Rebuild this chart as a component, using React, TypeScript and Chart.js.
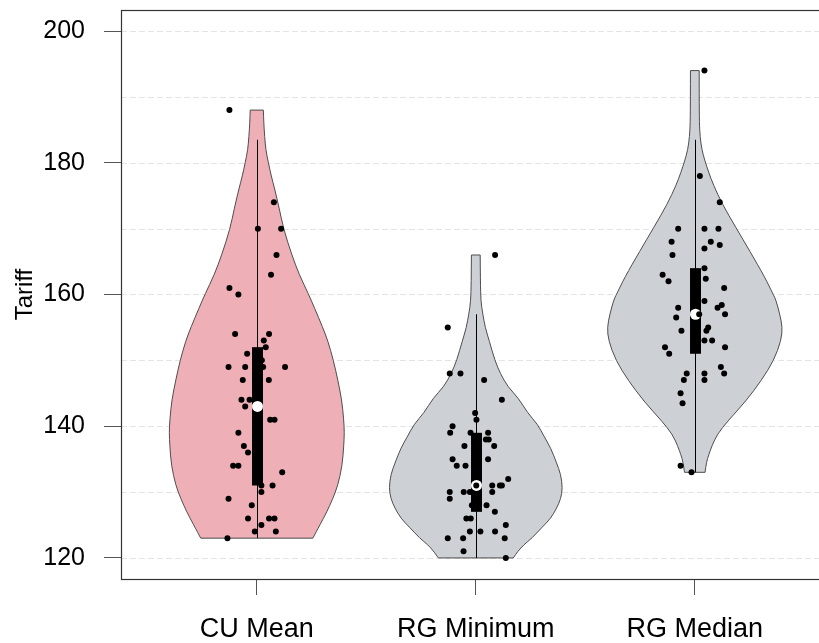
import React, { useEffect, useRef } from 'react';
import { Chart, registerables } from 'chart.js';

Chart.register(...registerables);

// ---------- data ----------
const categories = ['CU Mean', 'RG Minimum', 'RG Median'];
const yTickValues = [120, 140, 160, 180, 200];
const gridValues = [120, 130, 140, 150, 160, 170, 180, 190, 200];

// jittered observations (value, horizontal jitter in category units)
const cuValues = [188, 174, 170, 170, 166, 163, 161, 160, 154, 154, 153, 152, 151, 150, 149, 149, 149, 149, 147, 147, 144, 144, 143, 141, 141, 139, 137, 136, 134, 134, 133, 131, 131, 130, 129, 128, 126, 126, 126, 125, 124, 124, 123];
const cuJitter = [-0.125, 0.078, 0.005, 0.111, 0.09, 0.065, -0.125, -0.084, -0.099, 0.056, 0.032, 0.041, -0.044, 0.023, -0.129, -0.053, 0.029, 0.129, -0.064, 0.055, -0.07, -0.033, -0.053, 0.061, 0.081, -0.084, -0.059, -0.04, -0.108, -0.084, 0.116, 0.021, 0.072, 0.021, -0.129, -0.023, -0.04, 0.056, 0.081, 0.021, -0.009, 0.087, -0.134];

const rgMinValues = [166, 155, 148, 148, 147, 144, 142, 141, 140, 139, 139, 139, 138, 138, 137, 137, 135, 135, 134, 134, 132, 131, 131, 131, 131, 130, 130, 130, 130, 129, 128, 128, 127, 126, 126, 125, 124, 124, 124, 123, 123, 123, 121, 120];
const rgMinJitter = [0.088, -0.128, -0.119, -0.07, 0.038, 0.119, -0.003, 0.003, -0.106, -0.117, -0.024, 0.056, 0.046, 0.059, -0.052, 0.084, -0.106, 0.056, -0.087, -0.047, 0.148, 0.002, 0.075, 0.11, 0.119, -0.119, -0.055, -0.027, 0.075, -0.119, 0.049, -0.018, 0.087, -0.043, -0.023, 0.137, -0.027, 0.021, 0.088, -0.128, -0.058, 0.132, -0.056, 0.137];

const rgMedValues = [194, 178, 174, 170, 170, 170, 168, 168, 167.5, 167, 166, 164, 163, 162, 162.4, 161, 159, 158, 158, 158.4, 156.5, 157, 157, 154.5, 155, 154.5, 153, 153, 152, 152, 151, 149, 148, 148, 147, 148, 147, 145, 143.5, 134, 133];
const rgMedJitter = [0.044, 0.023, 0.114, -0.076, 0.044, 0.108, -0.106, 0.073, 0.114, 0.044, -0.102, 0.044, -0.147, -0.12, 0.05, 0.134, 0.044, -0.076, 0.104, 0.123, -0.085, 0.138, 0.02, -0.061, 0.061, 0.053, 0.044, 0.079, -0.136, 0.138, -0.117, 0.119, 0.134, -0.037, -0.05, 0.044, 0.044, -0.065, -0.056, -0.065, -0.015];

// violin density profiles: value levels and half-widths (category units)
const cuProfileValues = [188, 186, 184, 182, 180, 178, 176, 173, 170, 166, 163, 160, 158, 155, 153, 150, 147, 144, 141, 139, 137, 134, 131, 129, 127, 125, 124, 123];
const cuProfileWidths = [0.030, 0.032, 0.036, 0.041, 0.053, 0.066, 0.082, 0.103, 0.122, 0.160, 0.194, 0.237, 0.263, 0.301, 0.324, 0.350, 0.370, 0.388, 0.397, 0.400, 0.397, 0.390, 0.370, 0.347, 0.320, 0.288, 0.272, 0.256];

const rgMinProfileValues = [166, 162, 159, 157, 155, 153, 150, 148, 146, 144.3, 142, 140.3, 138.5, 136.7, 134.5, 132.7, 130.6, 129, 127.6, 126, 124.6, 123, 122, 121, 120];
const rgMinProfileWidths = [0.020, 0.021, 0.023, 0.032, 0.043, 0.061, 0.087, 0.112, 0.146, 0.194, 0.237, 0.282, 0.311, 0.342, 0.368, 0.388, 0.396, 0.388, 0.370, 0.342, 0.301, 0.256, 0.219, 0.192, 0.171];

const rgMedProfileValues = [194, 190, 186, 184, 182, 180.3, 178.5, 176.7, 173.7, 170.2, 166.6, 162.6, 160, 159.2, 157, 155, 153, 150, 147, 143.8, 140.8, 138.8, 137, 135.7, 134.5, 133];
const rgMedProfileWidths = [0.020, 0.020, 0.021, 0.024, 0.032, 0.046, 0.064, 0.084, 0.126, 0.187, 0.251, 0.320, 0.358, 0.370, 0.388, 0.400, 0.394, 0.361, 0.305, 0.233, 0.151, 0.103, 0.078, 0.064, 0.053, 0.047];

// box statistics: [lower whisker, Q1, median, Q3, upper whisker]
const cuBox = [123, 131, 143, 152, 183.5];
const rgMinBox = [120, 127, 131, 139, 157];
const rgMedBox = [133, 151, 157, 164, 183.5];

const violinFills = ['#EEAFB6', '#CDD0D5', '#CDD0D5'];

function smoothSide(ctx: CanvasRenderingContext2D, pts: number[][], first: boolean) {
  if (first) ctx.moveTo(pts[0][0], pts[0][1]);
  else ctx.lineTo(pts[0][0], pts[0][1]);
  for (let i = 1; i < pts.length - 1; i++) {
    const mx = (pts[i][0] + pts[i + 1][0]) / 2;
    const my = (pts[i][1] + pts[i + 1][1]) / 2;
    ctx.quadraticCurveTo(pts[i][0], pts[i][1], mx, my);
  }
  const last = pts[pts.length - 1];
  ctx.lineTo(last[0], last[1]);
}

export default function App() {
  const ref = useRef<HTMLCanvasElement>(null);

  useEffect(() => {
    if (!ref.current) return;
    Chart.defaults.font.family = "'Liberation Sans', Arial, sans-serif";

    const groups = [
      { values: cuValues, jitter: cuJitter, pv: cuProfileValues, pw: cuProfileWidths, box: cuBox },
      { values: rgMinValues, jitter: rgMinJitter, pv: rgMinProfileValues, pw: rgMinProfileWidths, box: rgMinBox },
      { values: rgMedValues, jitter: rgMedJitter, pv: rgMedProfileValues, pw: rgMedProfileWidths, box: rgMedBox },
    ];

    const points: { x: number; y: number }[] = [];
    groups.forEach((g, i) => {
      g.values.forEach((v, k) => points.push({ x: i + 1 + g.jitter[k], y: v }));
    });

    const violinPlugin = {
      id: 'violins',
      beforeDatasetsDraw(chart: any) {
        const { ctx, chartArea, scales } = chart;
        const xs = scales.x;
        const ys = scales.y;
        ctx.save();
        ctx.beginPath();
        ctx.rect(chartArea.left, chartArea.top, chartArea.right - chartArea.left, chartArea.bottom - chartArea.top);
        ctx.clip();
        // grid
        ctx.strokeStyle = '#e4e4e4';
        ctx.lineWidth = 1;
        ctx.setLineDash([6, 3]);
        ctx.beginPath();
        gridValues.forEach((v) => {
          const py = Math.round(ys.getPixelForValue(v)) + 0.5;
          ctx.moveTo(chartArea.left, py);
          ctx.lineTo(chartArea.right, py);
        });
        ctx.stroke();
        ctx.setLineDash([]);

        groups.forEach((g, i) => {
          const c = i + 1;
          const right = g.pv.map((v, k) => [xs.getPixelForValue(c + g.pw[k]), ys.getPixelForValue(v)]);
          const left = g.pv.map((v, k) => [xs.getPixelForValue(c - g.pw[k]), ys.getPixelForValue(v)]).reverse();
          ctx.beginPath();
          smoothSide(ctx, right, true);
          smoothSide(ctx, left, false);
          ctx.closePath();
          ctx.fillStyle = violinFills[i];
          ctx.fill();
          ctx.strokeStyle = '#4d4d4d';
          ctx.lineWidth = 1;
          ctx.stroke();

          const cx = xs.getPixelForValue(c);
          const lx = Math.round(cx) + 0.5;
          ctx.beginPath();
          ctx.moveTo(lx, ys.getPixelForValue(g.box[0]));
          ctx.lineTo(lx, ys.getPixelForValue(g.box[4]));
          ctx.strokeStyle = '#000';
          ctx.lineWidth = 1;
          ctx.stroke();

          const half = xs.getPixelForValue(c + 0.025) - cx;
          const top = ys.getPixelForValue(g.box[3]);
          const bot = ys.getPixelForValue(g.box[1]);
          ctx.fillStyle = '#000';
          ctx.fillRect(lx - half, top, half * 2, bot - top);

          ctx.beginPath();
          ctx.arc(lx, ys.getPixelForValue(g.box[2]), 5.5, 0, Math.PI * 2);
          ctx.fillStyle = '#fff';
          ctx.fill();
        });
        ctx.restore();
      },
      afterDatasetsDraw(chart: any) {
        const { ctx, chartArea } = chart;
        ctx.save();
        ctx.strokeStyle = '#333';
        ctx.lineWidth = 1.2;
        const l = Math.round(chartArea.left) + 0.5;
        const t = Math.round(chartArea.top) + 0.5;
        const b = Math.round(chartArea.bottom) + 0.5;
        ctx.strokeRect(l, t, chartArea.right - l, b - t);
        ctx.restore();
      },
    };

    const chart = new Chart(ref.current, {
      type: 'scatter',
      data: {
        datasets: [
          {
            data: points,
            pointRadius: 3,
            pointHoverRadius: 3,
            pointBackgroundColor: '#000',
            pointBorderWidth: 0,
            showLine: false,
          },
        ],
      },
      options: {
        responsive: false,
        animation: false,
        devicePixelRatio: 1,
        layout: { autoPadding: false, padding: { top: 10, right: 9.4, left: 0, bottom: 0 } },
        plugins: { legend: { display: false }, tooltip: { enabled: false } },
        scales: {
          x: {
            type: 'linear',
            min: 0.38,
            max: 3.62,
            afterBuildTicks: (s: any) => {
              s.ticks = [1, 2, 3].map((v) => ({ value: v }));
            },
            afterFit: (s: any) => {
              s.height = 64;
              s.paddingLeft = 0;
              s.paddingRight = 0;
            },
            ticks: {
              callback: (v: any) => categories[Math.round(v) - 1] ?? '',
              font: { size: 27 },
              color: '#000',
              padding: 18,
              maxRotation: 0,
              autoSkip: false,
            },
            grid: { drawOnChartArea: false, drawTicks: true, tickLength: 16, tickColor: '#555', tickWidth: 1 },
            border: { display: false },
          },
          y: {
            type: 'linear',
            min: 116.8,
            max: 203.2,
            afterBuildTicks: (s: any) => {
              s.ticks = yTickValues.map((v) => ({ value: v }));
            },
            afterFit: (s: any) => {
              s.width = 121;
              s.paddingTop = 0;
              s.paddingBottom = 0;
            },
            ticks: { font: { size: 25 }, color: '#000', padding: 19 },
            grid: { drawOnChartArea: false, drawTicks: true, tickLength: 17, tickColor: '#555', tickWidth: 1 },
            border: { display: false },
            title: { display: true, text: 'Tariff', font: { size: 24 }, color: '#000', padding: { top: 11, bottom: 0 } },
          },
        },
      },
      plugins: [violinPlugin],
    } as any);

    return () => chart.destroy();
  }, []);

  return (
    <div style={{ position: 'fixed', left: 0, top: 0, width: 819, height: 643, overflow: 'hidden', background: '#fff' }}>
      <canvas ref={ref} width={840} height={643} style={{ display: 'block', width: 840, height: 643 }} />
    </div>
  );
}
